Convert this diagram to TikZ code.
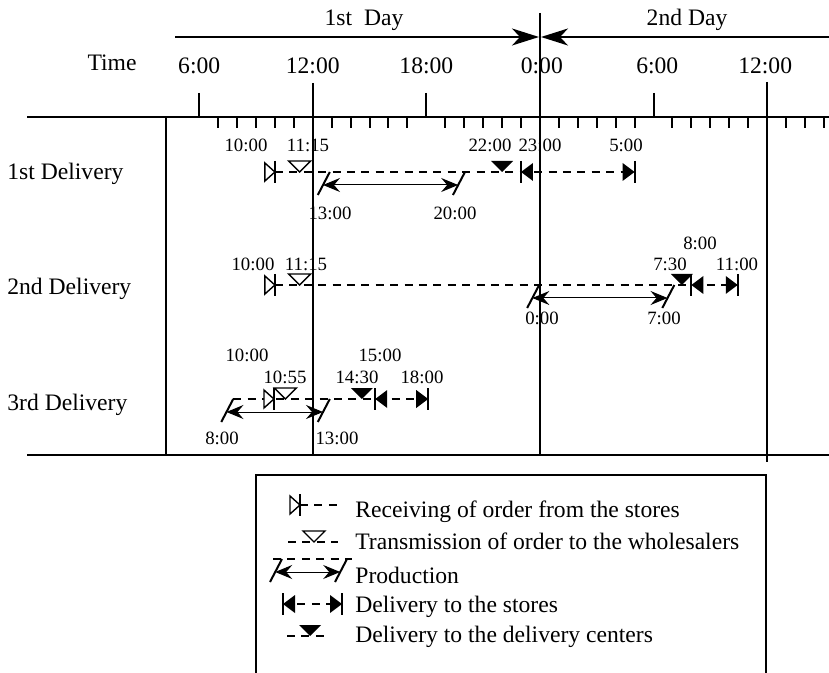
\documentclass[tikz,border=0pt]{standalone}
\usepackage{fontspec}
\setmainfont{Liberation Serif}
\usetikzlibrary{arrows.meta}

\begin{document}
\begin{tikzpicture}[x=0.5pt,y=-0.5pt,
  px/.style={x=0.5pt,y=-0.5pt},
  big/.style={font=\fontsize{11.8}{14}\selectfont,inner sep=0pt},
  small/.style={font=\fontsize{9.4}{11}\selectfont,inner sep=0pt},
  rule/.style={line width=1pt},
  route/.style={line width=0.9pt,dash pattern=on 4pt off 3.2pt},
  sym/.style={line width=0.7pt},
  prod/.style={line width=0.5pt,{Stealth[length=8.5pt,width=7pt,inset=3pt]}-{Stealth[length=8.5pt,width=7pt,inset=3pt]}},
  recv/.pic={\draw[px,sym,fill=white] (0,0) -- (-10,-9) -- (-10,9) -- cycle;
             \draw[px,sym] (0,-11) -- (0,11);},
  trans/.pic={\draw[px,sym,fill=white] (0,0) -- (-11,-11) -- (11,-11) -- cycle;},
  dcent/.pic={\fill[px] (0,0) -- (-11,-11) -- (11,-11) -- cycle;},
  dfrom/.pic={\fill[px] (0,0) -- (12,-9) -- (12,9) -- cycle;
              \draw[px,rule] (0,-11) -- (0,11);},
  dto/.pic={\fill[px] (0,0) -- (-12,-9) -- (-12,9) -- cycle;
            \draw[px,rule] (0,-11) -- (0,11);},
  cut/.pic={\draw[px,rule] (0,0) -- (-12,23);
            \path[px] (-6.8,13) coordinate (-mid);}
]
  \useasboundingbox (0,0) rectangle (829,673);

  % frame of the chart
  \draw[rule] (27,117) -- (829,117);
  \draw[rule] (27,455) -- (829,455);
  \draw[rule] (166,117) -- (166,455);

  \draw[rule,-{Stealth[length=13.5pt,width=8.5pt,inset=4pt]}] (175,37) -- (539,37);
  \draw[rule,-{Stealth[length=13.5pt,width=8.5pt,inset=4pt]}] (829,37) -- (541,37);
  \node[big] (dayone) at (364,20) {1st~~Day};
  \node[big] (daytwo) at (687,20) {2nd Day};
  \node[big] (timehead) at (112,63) {Time};

  % time axis, one unit = one hour
  \begin{scope}[shift={(85.6,0)},x=9.465pt]
    \foreach \h in {7,8,9,10,11,13,14,15,16,17,19,20,21,22,23,25,26,27,28,29,31,32,33,34,35,37,38,39}
      \draw[rule] (\h,117) -- (\h,128);
    \foreach \h in {6,18,30}
      \draw[rule] (\h,93) -- (\h,117);
    \draw[rule] (12,83) -- (12,455);
    \draw[rule] (24,13) -- (24,455);
    \draw[rule] (36,82) -- (36,462);
    \foreach \h/\t in {6/6:00,12/12:00,18/18:00,24.1/0:00,30.2/6:00,35.9/12:00}
      \node[big] (axis\h) at (\h,66) {\t};

    % 1st delivery
    \coordinate (onerecv) at (10,172);
    \coordinate (onetrans) at (11.3,172);
    \coordinate (onedc) at (22,172);
    \coordinate (onefrom) at (23,172);
    \coordinate (oneto) at (29,172);
    \draw[route] (onerecv) -- (oneto);
    \pic (oneps) at (12.9,172) {cut};
    \pic (onepe) at (20.04,172) {cut};
    \draw[prod] (oneps-mid) -- (onepe-mid);
    \pic at (onerecv) {recv};
    \pic at (onetrans) {trans};
    \pic at (onedc) {dcent};
    \pic at (onefrom) {dfrom};
    \pic at (oneto) {dto};

    % 2nd delivery
    \coordinate (tworecv) at (10,285);
    \coordinate (twotrans) at (11.3,285);
    \coordinate (twodc) at (31.5,285);
    \coordinate (twofrom) at (32,285);
    \coordinate (twoto) at (34.45,285);
    \draw[route] (tworecv) -- (twoto);
    \pic (twops) at (23.96,285) {cut};
    \pic (twope) at (31.1,285) {cut};
    \draw[prod] (twops-mid) -- (twope-mid);
    \pic at (tworecv) {recv};
    \pic at (twotrans) {trans};
    \pic at (twodc) {dcent};
    \pic at (twofrom) {dfrom};
    \pic at (twoto) {dto};

    % 3rd delivery
    \coordinate (threerecv) at (9.95,399);
    \coordinate (threetrans) at (10.55,399);
    \coordinate (threedc) at (14.6,399);
    \coordinate (threefrom) at (15.3,399);
    \coordinate (threeto) at (18.1,399);
    \pic (threeps) at (7.8,399) {cut};
    \pic (threepe) at (12.9,399) {cut};
    \draw[route] (7.8,399) -- (threeto);
    \draw[prod] (threeps-mid) -- (threepe-mid);
    \pic at (threerecv) {recv};
    \pic at (threetrans) {trans};
    \pic at (threedc) {dcent};
    \pic at (threefrom) {dfrom};
    \pic at (threeto) {dto};
  \end{scope}

  \node[big,anchor=base west] (rowone) at (7,180) {1st Delivery};
  \node[big,anchor=base west] (rowtwo) at (7,295) {2nd Delivery};
  \node[big,anchor=base west] (rowthree) at (7,410) {3rd Delivery};

  % times written at the marks
  \node[small] (ta) at (246,145) {10:00};
  \node[small] (tb) at (308,145) {11:15};
  \node[small] (tc) at (490,145) {22:00};
  \node[small] (td) at (540,145) {23:00};
  \node[small] (te) at (626,145) {5:00};
  \node[small] (tf) at (330,213) {13:00};
  \node[small] (tg) at (455,213) {20:00};

  \node[small] (th) at (253,264) {10:00};
  \node[small] (ti) at (306,264) {11:15};
  \node[small] (tj) at (700,243) {8:00};
  \node[small] (tk) at (670,264) {7:30};
  \node[small] (tl) at (737,264) {11:00};
  \node[small] (tm) at (542,318) {0:00};
  \node[small] (tn) at (664,318) {7:00};

  \node[small] (to) at (247,355) {10:00};
  \node[small] (tp) at (285,377) {10:55};
  \node[small] (tq) at (380,355) {15:00};
  \node[small] (tr) at (357,377) {14:30};
  \node[small] (ts) at (422,377) {18:00};
  \node[small] (tt) at (222,438) {8:00};
  \node[small] (tu) at (337,438) {13:00};

  % legend
  \draw[rule] (256,673) -- (256,475) -- (766,475) -- (766,673);
  \draw[route] (300,505) -- (337,505);
  \pic at (300,505) {recv};
  \draw[route] (288,542) -- (338,542);
  \pic at (314,542) {trans};
  \draw[route] (273,559) -- (352,559);
  \pic (keyps) at (282,559) {cut};
  \pic (keype) at (347,559) {cut};
  \draw[prod] (keyps-mid) -- (keype-mid);
  \coordinate (keyfrom) at (283,604);
  \coordinate (keyto) at (342,604);
  \draw[route] (keyfrom) -- (keyto);
  \pic at (keyfrom) {dfrom};
  \pic at (keyto) {dto};
  \draw[route] (287,636) -- (330,636);
  \pic at (310,636) {dcent};

  \node[big,anchor=base west] (keya) at (355,517) {Receiving of order from the stores};
  \node[big,anchor=base west] (keyb) at (355,549) {Transmission of order to the wholesalers};
  \node[big,anchor=base west] (keyc) at (355,583) {Production};
  \node[big,anchor=base west] (keyd) at (355,612) {Delivery to the stores};
  \node[big,anchor=base west] (keye) at (355,642) {Delivery to the delivery centers};
\end{tikzpicture}
\end{document}
